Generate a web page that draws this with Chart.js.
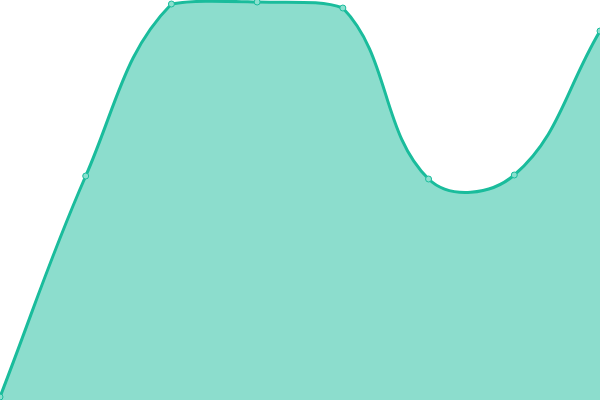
<!DOCTYPE html>
<html>
<head>
<meta charset="utf-8">
<script src="https://cdn.jsdelivr.net/npm/chart.js@4/dist/chart.umd.min.js"></script>
<style>
    html, body { margin: 0; padding: 0; background: #fff; }
    #wrap { width: 600px; height: 400px; }
</style>
</head>
<body>
<div id="wrap"><canvas id="chart"></canvas></div>
<script>
var labels = ["1", "2", "3", "4", "5", "6", "7", "8"];
var values = [0.75, 56, 99, 99.5, 98, 55.25, 56.25, 92.25];

new Chart("chart", {
    type: "line",
    data: {
        labels: labels,
        datasets: [{
            data: values,
            fill: true,
            tension: 0.4,
            borderColor: "#1abc9c",
            borderWidth: 3,
            backgroundColor: "rgba(26,188,156,0.5)",
            pointRadius: 3,
            pointBorderWidth: 1,
            pointBorderColor: "#1abc9c",
            pointBackgroundColor: "#8be0cf",
            clip: false
        }]
    },
    options: {
        responsive: true,
        maintainAspectRatio: false,
        animation: false,
        layout: { padding: 0, autoPadding: false },
        plugins: {
            legend: { display: false },
            tooltip: { enabled: false }
        },
        scales: {
            x: { display: false, offset: false },
            y: { display: false, min: 0, max: 100 }
        }
    }
});
</script>
</body>
</html>
